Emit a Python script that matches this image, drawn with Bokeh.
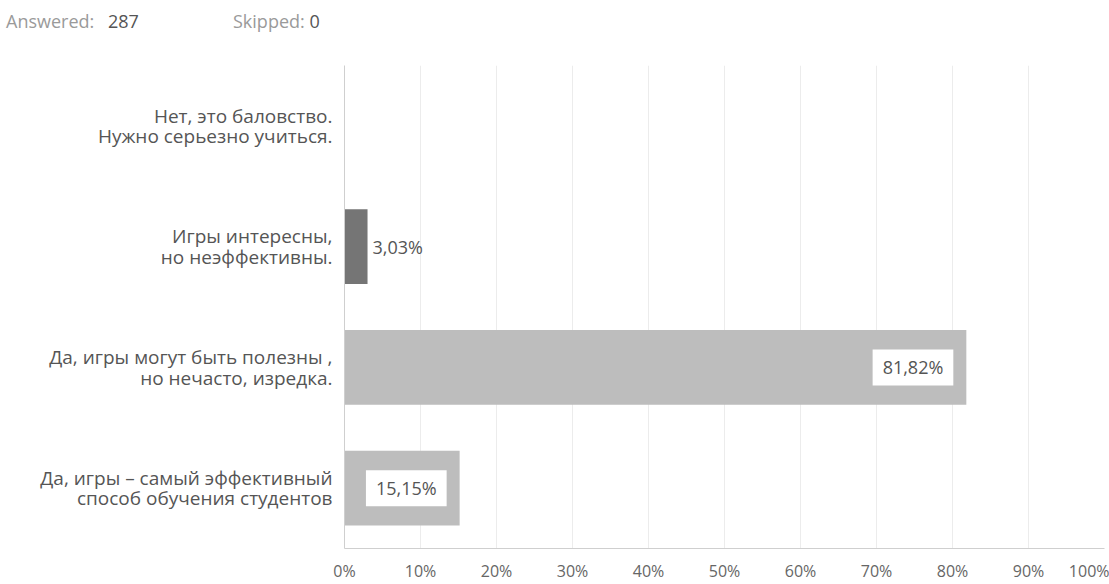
from bokeh.plotting import figure
from bokeh.models import ColumnDataSource, FactorRange, Range1d, FixedTicker, Div
from bokeh.layouts import column
from bokeh.core.properties import value
from bokeh.embed import file_html
from bokeh.resources import INLINE

# ---- data ----
categories = [
    "Нет, это баловство.\nНужно серьезно учиться.",
    "Игры интересны,\nно неэффективны.",
    "Да, игры могут быть полезны ,\nно нечасто, изредка.",
    "Да, игры – самый эффективный\nспособ обучения студентов",
]
values = [0.0, 3.03, 81.82, 15.15]
value_labels = ["0,00%", "3,03%", "81,82%", "15,15%"]
bar_colors = ["#bdbdbd", "#757575", "#bdbdbd", "#bdbdbd"]
x_ticks = [0, 10, 20, 30, 40, 50, 60, 70, 80, 90, 100]
x_tick_labels = ["0%", "10%", "20%", "30%", "40%", "50%", "60%", "70%", "80%", "90%", "100%"]
answered = 287
skipped = 0

FONT = "Open Sans"
HEADER_H = 40

header = Div(
    text=(
        f'<div style="position:relative;width:1109px;height:{HEADER_H}px;'
        f'font-family:\'{FONT}\';font-size:18px;">'
        f'<span style="position:absolute;left:6px;top:9px;color:#9a9a9a;">Answered:</span>'
        f'<span style="position:absolute;left:108px;top:9px;color:#555555;">{answered}</span>'
        f'<span style="position:absolute;left:233px;top:9px;color:#9a9a9a;">Skipped: '
        f'<span style="color:#555555;">{skipped}</span></span>'
        f'</div>'
    ),
    width=1109, height=HEADER_H, margin=0,
)

p = figure(
    width=1109, height=584 - HEADER_H,
    y_range=FactorRange(factors=list(reversed(categories))),
    x_range=Range1d(0, 100),
    output_backend="svg", toolbar_location=None,
    min_border_left=344, min_border_right=5, min_border_top=65 - HEADER_H, min_border_bottom=35,
    margin=0,
)
p.outline_line_color = None
p.background_fill_color = "white"
p.border_fill_color = "white"

src = ColumnDataSource(dict(cat=categories, val=values, color=bar_colors, lab=value_labels))
p.hbar(y="cat", right="val", left=0, height=0.62, fill_color="color", line_color=None, source=src)

# value labels: inside white boxes for long bars, outside for short ones
inside = [i for i, v in enumerate(values) if v >= 10]
outside = [i for i, v in enumerate(values) if 0 < v < 10]
src_in = ColumnDataSource(dict(cat=[categories[i] for i in inside], val=[values[i] for i in inside],
                               lab=[value_labels[i] for i in inside]))
src_out = ColumnDataSource(dict(cat=[categories[i] for i in outside], val=[values[i] for i in outside],
                                lab=[value_labels[i] for i in outside]))
p.text(x="val", y="cat", text="lab", source=src_in, x_offset=-13,
       text_align="right", text_baseline="middle",
       text_font=value(FONT), text_font_size="18px", text_color="#555555",
       background_fill_color="white", padding=(10, 6))
p.text(x="val", y="cat", text="lab", source=src_out, x_offset=5,
       text_align="left", text_baseline="middle",
       text_font=value(FONT), text_font_size="18px", text_color="#555555")

# axes
p.xaxis.ticker = FixedTicker(ticks=x_ticks)
p.xaxis.major_label_overrides = {t: l for t, l in zip(x_ticks, x_tick_labels)}
p.xaxis.axis_line_color = "#cfcfcf"
p.xaxis.major_tick_line_color = None
p.xaxis.minor_tick_line_color = None
p.xaxis.major_tick_out = 0
p.xaxis.major_tick_in = 0
p.xaxis.major_label_standoff = 11
p.xaxis.major_label_text_font = FONT
p.xaxis.major_label_text_font_size = "16px"
p.xaxis.major_label_text_color = "#666666"

p.yaxis.axis_line_color = "#cfcfcf"
p.yaxis.major_tick_line_color = None
p.yaxis.minor_tick_line_color = None
p.yaxis.major_tick_out = 0
p.yaxis.major_tick_in = 0
p.yaxis.major_label_standoff = 12
p.yaxis.major_label_text_font = FONT
p.yaxis.major_label_text_font_size = "19px"
p.yaxis.major_label_text_color = "#555555"
p.yaxis.major_label_text_line_height = 0.78

p.xgrid.ticker = FixedTicker(ticks=x_ticks)
p.xgrid.grid_line_color = "#ececec"
p.ygrid.grid_line_color = None

layout = column(header, p, spacing=0, margin=0)

open("out.html", "w").write(file_html(layout, INLINE))
